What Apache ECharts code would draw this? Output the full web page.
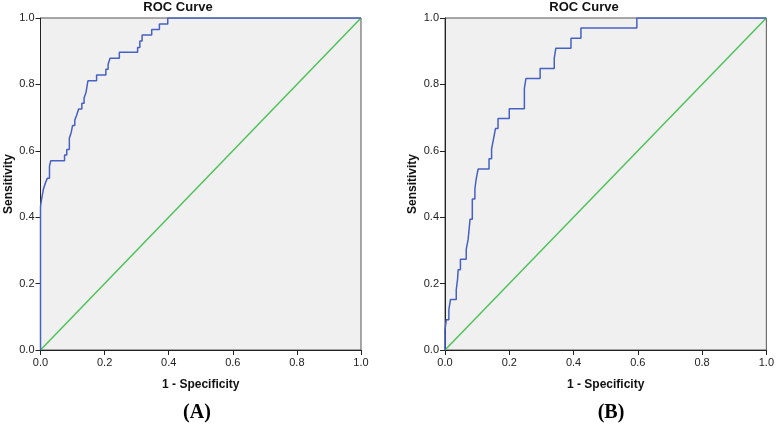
<!DOCTYPE html>
<html><head><meta charset="utf-8">
<script src="https://cdn.jsdelivr.net/npm/echarts@6/dist/echarts.min.js"></script>
<style>html,body{margin:0;padding:0;background:#fff}#c{width:777px;height:426px}</style>
</head><body><div id="c"></div>
<script>
const panelTitles = ['ROC Curve', 'ROC Curve'];
const panelLabels = ['(A)', '(B)'];
const xAxisName = '1 - Specificity';
const yAxisName = 'Sensitivity';
const tickValues = [0.0, 0.2, 0.4, 0.6, 0.8, 1.0];

// Panel A ROC curve vertices (1 - specificity, sensitivity)
const fprA = [0,0,0.003,0.003,0.009,0.009,0.015,0.015,0.021,0.021,0.028,0.028,0.032,0.032,0.075,0.075,0.082,0.082,0.090,0.090,0.096,0.096,0.100,0.100,0.107,0.107,0.113,0.113,0.119,0.119,0.129,0.129,0.136,0.136,0.142,0.142,0.148,0.148,0.175,0.175,0.204,0.204,0.211,0.211,0.217,0.217,0.246,0.246,0.303,0.303,0.310,0.310,0.317,0.317,0.347,0.347,0.371,0.371,0.397,0.397,1];
const tprA = [0,0.432,0.432,0.452,0.452,0.484,0.484,0.502,0.502,0.517,0.517,0.554,0.554,0.570,0.570,0.587,0.587,0.604,0.604,0.638,0.638,0.656,0.656,0.676,0.676,0.693,0.693,0.708,0.708,0.726,0.726,0.743,0.743,0.759,0.759,0.776,0.776,0.811,0.811,0.828,0.828,0.846,0.846,0.861,0.861,0.879,0.879,0.897,0.897,0.911,0.911,0.931,0.931,0.949,0.949,0.965,0.965,0.982,0.982,1.0,1.0];

// Panel B ROC curve vertices
const fprB = [0,0,0.004,0.004,0.012,0.012,0.017,0.017,0.035,0.035,0.039,0.039,0.041,0.041,0.048,0.048,0.066,0.066,0.072,0.072,0.078,0.078,0.085,0.085,0.093,0.093,0.097,0.097,0.103,0.103,0.137,0.137,0.145,0.145,0.151,0.151,0.157,0.157,0.165,0.165,0.200,0.200,0.247,0.247,0.252,0.252,0.296,0.296,0.340,0.340,0.345,0.345,0.392,0.392,0.423,0.423,0.597,0.597,1];
const tprB = [0,0.061,0.061,0.091,0.091,0.121,0.121,0.152,0.152,0.182,0.182,0.212,0.212,0.242,0.242,0.273,0.273,0.303,0.303,0.333,0.333,0.394,0.394,0.455,0.455,0.485,0.485,0.515,0.515,0.545,0.545,0.576,0.576,0.606,0.606,0.636,0.636,0.667,0.667,0.697,0.697,0.727,0.727,0.788,0.788,0.818,0.818,0.848,0.848,0.879,0.879,0.909,0.909,0.939,0.939,0.970,0.970,1.0,1.0];

// Reference (diagonal) line
const refX = [0, 1];
const refY = [0, 1];

const zip = (xs, ys) => xs.map((x, i) => [x, ys[i]]);
const chart = echarts.init(document.getElementById('c'), null, {renderer: 'canvas'});

const grids = [
  {left: 40.5, top: 18, width: 320.5, height: 332},
  {left: 445, top: 18, width: 322, height: 332}
];
const tickFont = 'Liberation Sans Narrow, Liberation Sans, Arial, sans-serif';
const boldFont = 'Liberation Sans, Arial, sans-serif';

function xAxis(i) {
  return {
    gridIndex: i, type: 'value', min: tickValues[0], max: tickValues[tickValues.length - 1], interval: 0.2,
    axisLine: {show: true, onZero: false, lineStyle: {color: '#222', width: 1}},
    axisTick: {show: true, inside: false, length: 5, lineStyle: {color: '#222', width: 1}},
    axisLabel: {formatter: v => v.toFixed(1), fontSize: 11, fontFamily: tickFont, color: '#222', margin: 7},
    splitLine: {show: false},
    name: xAxisName, nameLocation: 'middle', nameGap: 29,
    nameTextStyle: {fontSize: 12, fontWeight: 'bold', fontFamily: boldFont, color: '#111'}
  };
}
function yAxis(i) {
  return {
    gridIndex: i, type: 'value', min: tickValues[0], max: tickValues[tickValues.length - 1], interval: 0.2,
    axisLine: {show: true, onZero: false, lineStyle: {color: '#222', width: 1}},
    axisTick: {show: true, inside: false, length: 5, lineStyle: {color: '#222', width: 1}},
    axisLabel: {formatter: v => v.toFixed(1), fontSize: 11, fontFamily: tickFont, color: '#222', margin: 6},
    splitLine: {show: false},
    name: yAxisName, nameLocation: 'middle', nameGap: 26,
    nameTextStyle: {fontSize: 12, fontWeight: 'bold', fontFamily: boldFont, color: '#111'}
  };
}

const blue = '#4660c4';
const green = '#4fc25a';

const option = {
  animation: false,
  backgroundColor: '#ffffff',
  grid: grids.map(g => Object.assign({show: true, backgroundColor: '#f0f0f0', borderColor: '#555', borderWidth: 1}, g)),
  xAxis: [xAxis(0), xAxis(1)],
  yAxis: [yAxis(0), yAxis(1)],
  series: [
    {type: 'line', xAxisIndex: 0, yAxisIndex: 0, data: zip(refX, refY), showSymbol: false, lineStyle: {color: green, width: 1.5}, z: 2},
    {type: 'line', xAxisIndex: 0, yAxisIndex: 0, data: zip(fprA, tprA), showSymbol: false, lineStyle: {color: blue, width: 1.5}, z: 3},
    {type: 'line', xAxisIndex: 1, yAxisIndex: 1, data: zip(refX, refY), showSymbol: false, lineStyle: {color: green, width: 1.5}, z: 2},
    {type: 'line', xAxisIndex: 1, yAxisIndex: 1, data: zip(fprB, tprB), showSymbol: false, lineStyle: {color: blue, width: 1.5}, z: 3}
  ],
  graphic: [
    {type: 'text', x: 178, y: 1, style: {text: panelTitles[0], align: 'center', textAlign: 'center', verticalAlign: 'top', textVerticalAlign: 'top', font: 'bold 13px ' + boldFont, fill: '#111'}},
    {type: 'text', x: 584, y: 1, style: {text: panelTitles[1], align: 'center', textAlign: 'center', verticalAlign: 'top', textVerticalAlign: 'top', font: 'bold 13px ' + boldFont, fill: '#111'}},
    {type: 'text', x: 197, y: 413, style: {text: panelLabels[0], align: 'center', textAlign: 'center', verticalAlign: 'middle', textVerticalAlign: 'middle', font: 'bold 20px Liberation Serif, Times New Roman, serif', fill: '#000'}},
    {type: 'text', x: 611, y: 413, style: {text: panelLabels[1], align: 'center', textAlign: 'center', verticalAlign: 'middle', textVerticalAlign: 'middle', font: 'bold 20px Liberation Serif, Times New Roman, serif', fill: '#000'}}
  ]
};
chart.setOption(option);
</script>
</body></html>
